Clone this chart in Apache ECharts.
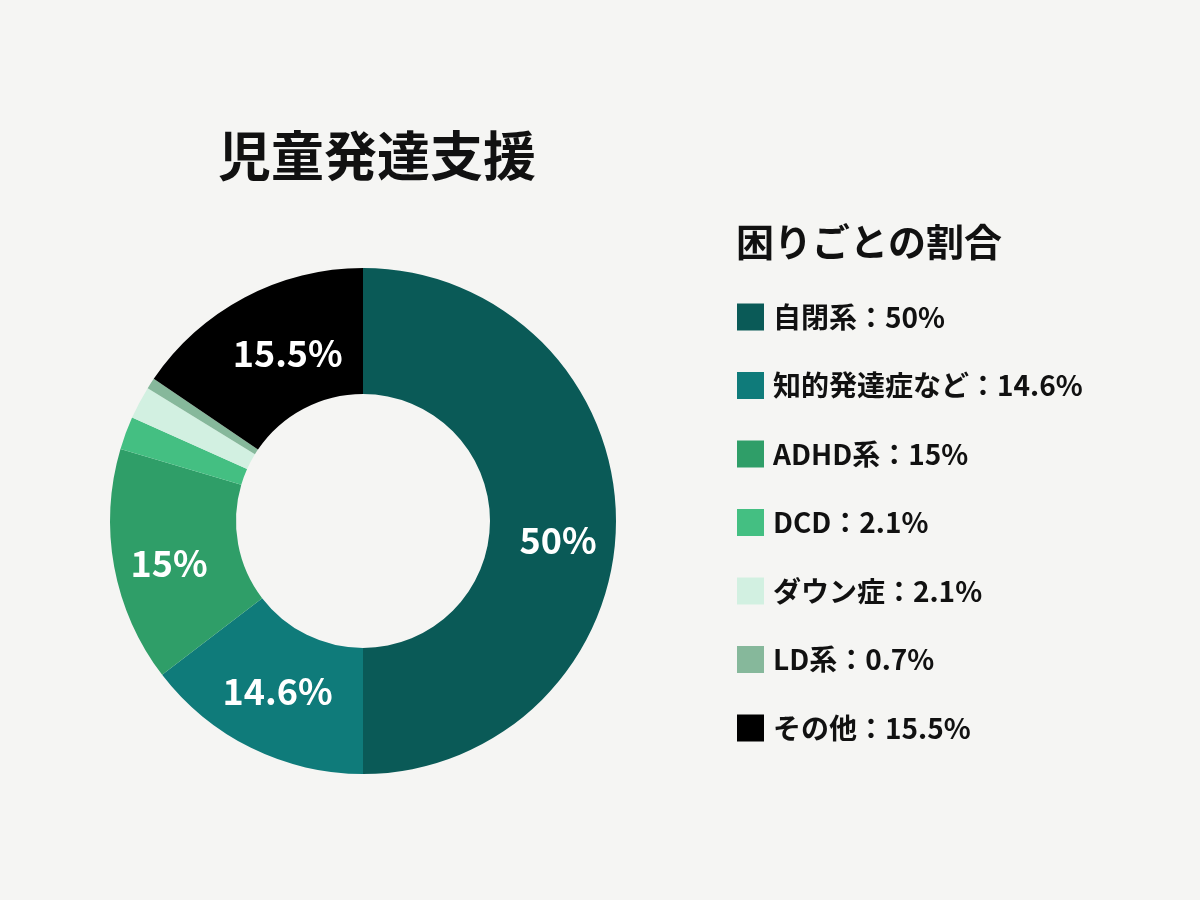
<!DOCTYPE html>
<html>
<head>
<meta charset="utf-8">
<script src="https://cdn.jsdelivr.net/npm/echarts@6/dist/echarts.min.js"></script>
<style>
html, body { margin: 0; padding: 0; background: #f5f5f3; }
#chart { width: 1200px; height: 900px; }
</style>
</head>
<body>
<div id="chart"></div>
<script>
// 困りごとの割合
var names = ['自閉系', '知的発達症など', 'ADHD系', 'DCD', 'ダウン症', 'LD系', 'その他'];
var values = [50, 14.6, 15, 2.1, 2.1, 0.7, 15.5];
var colors = ['#0a5a57', '#0f7b7a', '#2f9e68', '#44bf82', '#d2f0e1', '#86b89b', '#000000'];
var showLabel = [true, true, true, false, false, false, true];
// small nudges so the in-slice labels sit like the original
var labelShift = [[2, 19], [0, -3], [-4, 7], [0, 0], [0, 0], [0, 0], [15, 3]];

var FONT = '"Noto Sans CJK JP", "Noto Sans", sans-serif';

function buildData() {
	var list = [];
	for (var i = 0; i < names.length; i++) {
		list.push({
			name : names[i],
			value : values[i],
			itemStyle : { color : colors[i] },
			label : { show : showLabel[i], offset : labelShift[i] }
		});
	}
	return list;
}

var chart = echarts.init(document.getElementById('chart'));

chart.setOption({
	backgroundColor : '#f5f5f3',
	animation : false,
	textStyle : { fontFamily : FONT },
	title : [ {
		text : '児童発達支援',
		left : 372,
		textAlign : 'center',
		top : 124,
		textStyle : { fontSize : 53, fontWeight : 'bold', color : '#111', fontFamily : FONT }
	}, {
		text : '困りごとの割合',
		left : 731,
		top : 218,
		textStyle : { fontSize : 38, fontWeight : 'bold', color : '#111', fontFamily : FONT }
	} ],
	legend : {
		orient : 'vertical',
		left : 732,
		top : 298,
		itemWidth : 27,
		itemHeight : 27,
		itemGap : 40.5,
		icon : 'rect',
		data : names,
		formatter : function(name) {
			return name + '：' + values[names.indexOf(name)] + '%';
		},
		textStyle : { fontSize : 28, fontWeight : 'bold', color : '#111', fontFamily : FONT, padding : [0, 0, 0, 4] }
	},
	series : [ {
		type : 'pie',
		center : [363, 521],
		radius : [127, 253],
		startAngle : 90,
		clockwise : true,
		label : {
			position : 'inside',
			formatter : '{c}%',
			color : '#fff',
			fontSize : 36,
			fontWeight : 'bold',
			fontFamily : FONT
		},
		labelLine : { show : false },
		emphasis : { disabled : true },
		data : buildData()
	} ]
});
</script>
</body>
</html>
